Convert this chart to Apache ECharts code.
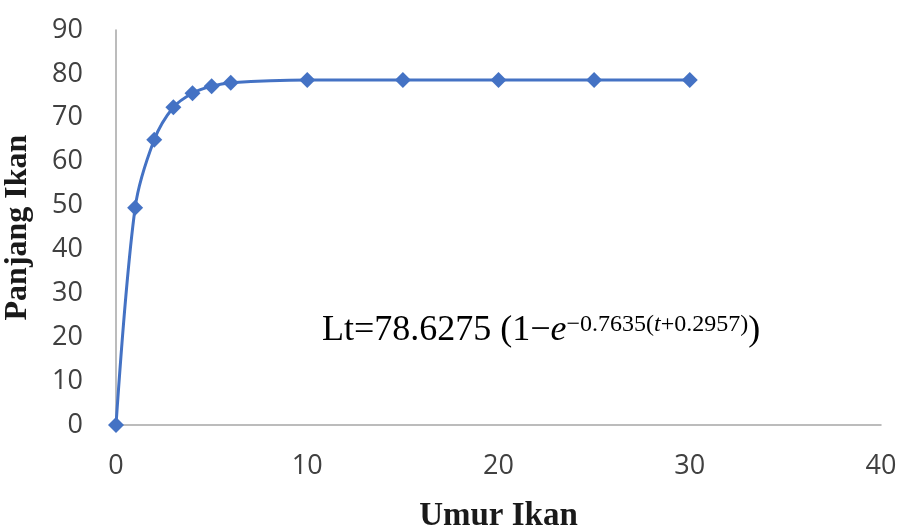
<!DOCTYPE html>
<html>
<head>
<meta charset="utf-8">
<script src="https://cdn.jsdelivr.net/npm/echarts@6/dist/echarts.min.js"></script>
<style>
  html, body { margin: 0; padding: 0; background: #fff; }
  #chart { width: 900px; height: 529px; }
</style>
</head>
<body>
<div id="chart"></div>
<script>
// Umur (age) vs panjang (length) of fish
const umur = [0, 1, 2, 3, 4, 5, 6, 10, 15, 20, 25, 30]
const panjang = [0, 49.5, 65, 72.4, 75.6, 77.2, 78, 78.6, 78.6, 78.6, 78.6, 78.6]

const chart = echarts.init(document.getElementById('chart'))

const labelFont = { color: '#404040', fontSize: 27, fontFamily: 'Open Sans' }
const nameFont = { color: '#1a1a1a', fontSize: 33, fontWeight: 'bold', fontFamily: 'Liberation Serif' }
const serif = 'Liberation Serif'

const option = {
  animation: false,
  grid: { left: 116, right: 19, top: 30, bottom: 104, outerBoundsMode: 'none', containLabel: false },
  xAxis: {
    type: 'value',
    min: 0, max: 40, interval: 10,
    name: 'Umur Ikan',
    nameLocation: 'middle',
    nameGap: 75,
    nameTextStyle: nameFont,
    axisLine: { lineStyle: { color: '#a6a6a6', width: 1.5 } },
    axisTick: { show: false },
    splitLine: { show: false },
    axisLabel: Object.assign({ margin: 28 }, labelFont)
  },
  yAxis: {
    type: 'value',
    min: 0, max: 90, interval: 10,
    name: 'Panjang Ikan',
    nameLocation: 'middle',
    nameGap: 82,
    nameTextStyle: Object.assign({}, nameFont, { fontSize: 32 }),
    axisLine: { show: true, lineStyle: { color: '#a6a6a6', width: 1.5 } },
    axisTick: { show: false },
    splitLine: { show: false },
    axisLabel: Object.assign({ margin: 33 }, labelFont)
  },
  series: [{
    type: 'line',
    data: umur.map((x, i) => [x, panjang[i]]),
    smooth: 0.3,
    symbol: 'diamond',
    symbolSize: 16,
    lineStyle: { color: '#4472c4', width: 3 },
    itemStyle: { color: '#4472c4' }
  }],
  graphic: [{
    type: 'text',
    left: 322,
    top: 313,
    style: {
      text: '{a|Lt=78.6275 (1\u2212}{i|e}{s|\u22120.7635(}{si|t}{s|+0.2957)}{a|)}',
      rich: {
        a: { fontFamily: serif, fontSize: 36, color: '#111', lineHeight: 36 },
        i: { fontFamily: serif, fontStyle: 'italic', fontSize: 36, color: '#111', lineHeight: 36 },
        s: { fontFamily: serif, fontSize: 24, color: '#111', verticalAlign: 'top', lineHeight: 24 },
        si: { fontFamily: serif, fontStyle: 'italic', fontSize: 24, color: '#111', verticalAlign: 'top', lineHeight: 24 }
      }
    }
  }]
}

chart.setOption(option)
</script>
</body>
</html>
